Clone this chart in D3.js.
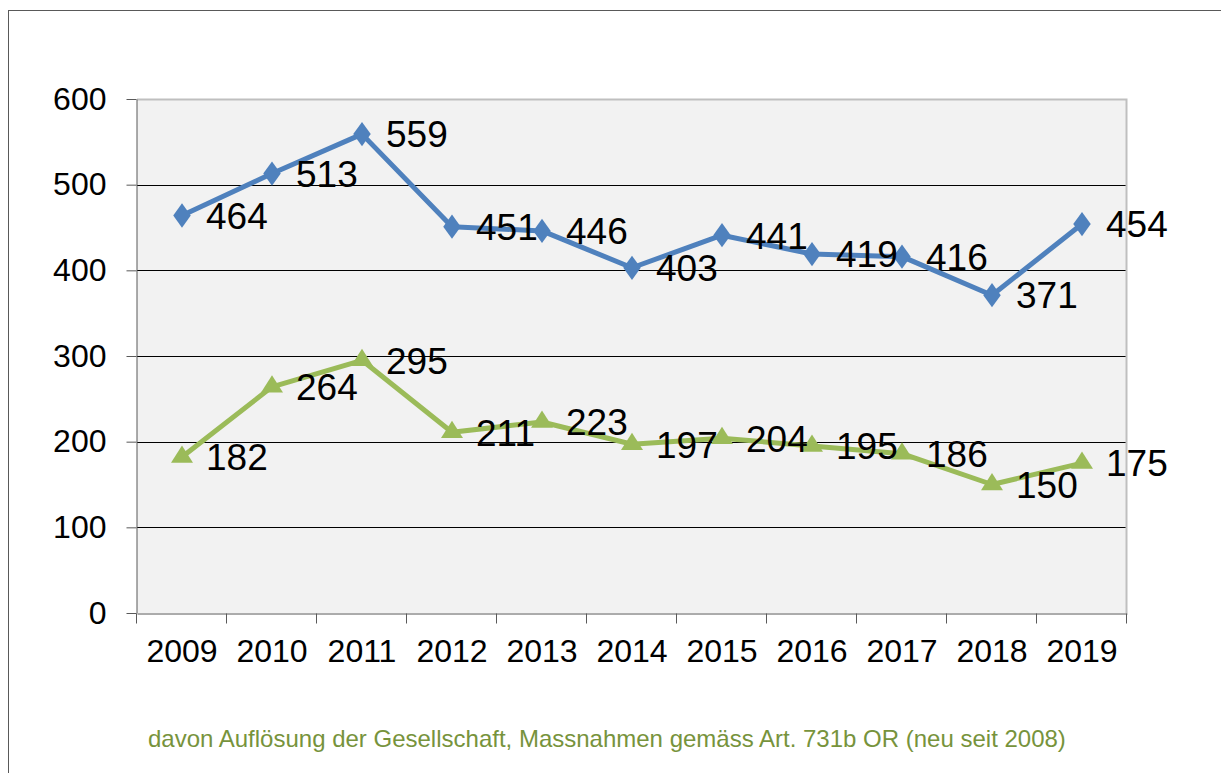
<!DOCTYPE html>
<html>
<head>
    <meta charset="UTF-8">
    <title></title>
    <style>
        body { margin: 0; background: #fff; }
        text { font-family: "Liberation Sans", Arial, sans-serif; }
    </style>
</head>
<body>
<script src="https://cdn.jsdelivr.net/npm/d3@7/dist/d3.min.js" charset="utf-8"></script>
<script>

    var width = 1221;
    var height = 773;

    // data
    var years = ["2009", "2010", "2011", "2012", "2013", "2014", "2015", "2016", "2017", "2018", "2019"];
    var total = [464, 513, 559, 451, 446, 403, 441, 419, 416, 371, 454];
    var dissolution = [182, 264, 295, 211, 223, 197, 204, 195, 186, 150, 175];
    var yTicks = [0, 100, 200, 300, 400, 500, 600];
    var caption = "davon Auflösung der Gesellschaft, Massnahmen gemäss Art. 731b OR (neu seit 2008)";

    // plot area
    var plot = {left: 137, right: 1127, top: 99, bottom: 613};

    var svg = d3.select("body")
        .append("svg")
        .attr("width", width)
        .attr("height", height);

    // outer frame (right and bottom edges fall outside the picture)
    svg.append("rect")
        .attr("x", 8.5)
        .attr("y", 10.5)
        .attr("width", 1230)
        .attr("height", 780)
        .attr("fill", "#fff")
        .attr("stroke", "#595959")
        .attr("stroke-width", 1);

    var xScale = d3.scaleBand()
        .domain(years)
        .range([plot.left, plot.right]);

    var yScale = d3.scaleLinear()
        .domain([0, 600])
        .range([plot.bottom, plot.top]);

    // plot background
    svg.append("rect")
        .attr("x", plot.left)
        .attr("y", plot.top)
        .attr("width", plot.right - plot.left)
        .attr("height", plot.bottom - plot.top)
        .attr("fill", "#f2f2f2");

    // gridlines
    svg.append("g")
        .selectAll("line")
        .data(yTicks.filter(d => d > 0 && d < 600))
        .join("line")
        .attr("x1", plot.left)
        .attr("x2", plot.right)
        .attr("y1", d => Math.round(yScale(d)) + 0.5)
        .attr("y2", d => Math.round(yScale(d)) + 0.5)
        .attr("stroke", "#000")
        .attr("stroke-width", 1);

    // gray top / right border of plot area
    svg.append("path")
        .attr("d", "M" + plot.left + "," + (plot.top + 0.5) + "H" + (plot.right - 0.5) + "V" + plot.bottom)
        .attr("fill", "none")
        .attr("stroke", "#bfbfbf")
        .attr("stroke-width", 2);

    // y axis
    var yAxis = d3.axisLeft(yScale)
        .tickValues(yTicks)
        .tickSize(10)
        .tickPadding(20)
        .tickSizeOuter(0);

    var gy = svg.append("g")
        .attr("transform", "translate(" + (plot.left - 0.5) + ",0)")
        .call(yAxis);
    gy.select(".domain").attr("stroke", "#595959");
    gy.selectAll(".tick line").attr("stroke", "#595959");
    gy.selectAll(".tick text")
        .attr("font-size", 32)
        .attr("fill", "#000")
        .attr("font-family", "Liberation Sans, Arial, sans-serif");

    // x axis: ticks sit between categories
    var xAxis = d3.axisBottom(xScale)
        .tickSize(0)
        .tickPadding(26);

    var gx = svg.append("g")
        .attr("transform", "translate(0," + (plot.bottom + 0.5) + ")")
        .call(xAxis);
    gx.select(".domain").attr("stroke", "#595959");
    gx.selectAll(".tick text")
        .attr("font-size", 32)
        .attr("fill", "#000")
        .attr("font-family", "Liberation Sans, Arial, sans-serif");

    var bounds = years.map(d => xScale(d)).concat([plot.right]);
    gx.selectAll(".bound")
        .data(bounds)
        .join("line")
        .attr("class", "bound")
        .attr("x1", d => Math.round(d) - 0.5)
        .attr("x2", d => Math.round(d) - 0.5)
        .attr("y1", 0)
        .attr("y2", 10)
        .attr("stroke", "#595959");

    var cx = d => xScale(d) + xScale.bandwidth() / 2;

    var series = [
        {key: "total", values: total, color: "#4f81bd", symbol: d3.symbolDiamond, size: 170},
        {key: "dissolution", values: dissolution, color: "#9bbb59", symbol: d3.symbolTriangle, size: 190}
    ];

    var line = d3.line()
        .x((d, i) => cx(years[i]))
        .y(d => yScale(d));

    var groups = svg.append("g")
        .selectAll("g")
        .data(series)
        .join("g");

    groups.append("path")
        .attr("d", d => line(d.values))
        .attr("fill", "none")
        .attr("stroke", d => d.color)
        .attr("stroke-width", 5)
        .attr("stroke-linejoin", "round");

    groups.each(function (s) {
        var sym = d3.symbol().type(s.symbol).size(s.size);
        d3.select(this).selectAll(".mark")
            .data(s.values)
            .join("path")
            .attr("class", "mark")
            .attr("d", sym)
            .attr("transform", (d, i) => {
                var sy = s.symbol === d3.symbolDiamond ? "scale(1.25,1)" : "scale(1.05,0.95)";
                return "translate(" + cx(years[i]) + "," + yScale(d) + ") " + sy;
            })
            .attr("fill", s.color);
    });

    // data labels, right of each point
    groups.each(function (s) {
        d3.select(this).selectAll(".lab")
            .data(s.values)
            .join("text")
            .attr("class", "lab")
            .attr("x", (d, i) => cx(years[i]) + 24)
            .attr("y", d => yScale(d))
            .attr("dy", "0.36em")
            .attr("font-size", 37)
            .attr("fill", "#000")
            .text(d => d);
    });

    // caption
    svg.append("text")
        .attr("x", 148)
        .attr("y", 747)
        .attr("font-size", 24)
        .attr("fill", "#77933c")
        .text(caption);

</script>
</body>
</html>
